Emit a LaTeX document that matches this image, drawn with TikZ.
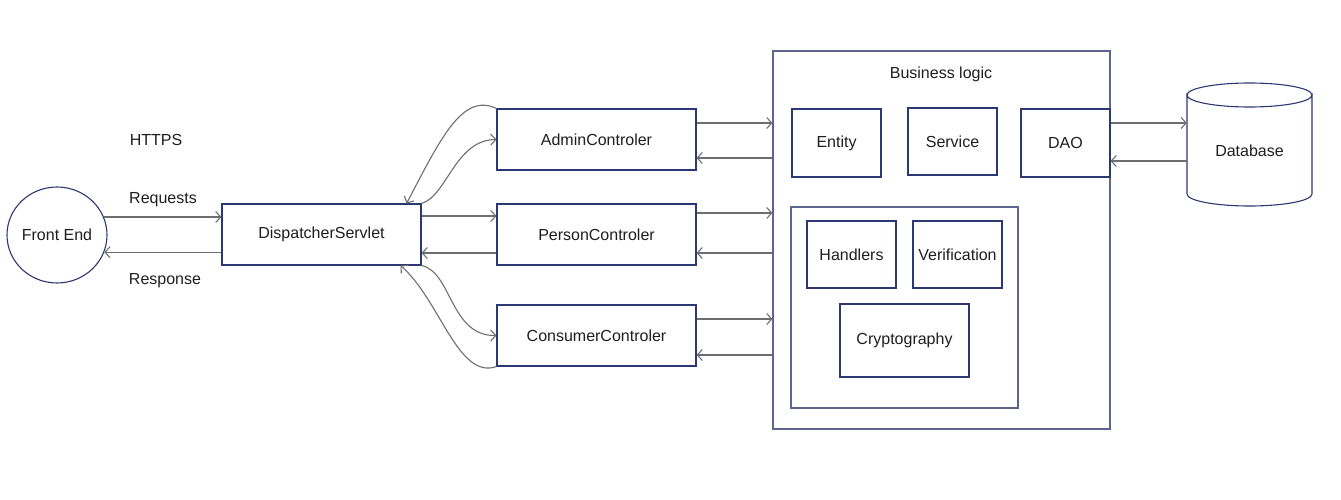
\documentclass[tikz,border=0pt]{standalone}
\usepackage{fontspec}
\setmainfont{Liberation Sans}
\usetikzlibrary{arrows.meta,shapes.geometric}
\definecolor{navy}{RGB}{44,56,116}
\definecolor{frame}{RGB}{92,102,142}
\definecolor{arrgray}{RGB}{110,110,110}
\definecolor{txt}{RGB}{30,30,30}
\tikzset{
  box/.style={draw=navy,line width=1.1pt,fill=white,inner sep=0pt,text=txt,font=\fontsize{16}{19}\selectfont},
  lbl/.style={inner sep=0pt,text=txt,font=\fontsize{16}{19}\selectfont},
  arr/.style={draw=arrgray,line width=1.1pt,-{Straight Barb[length=5pt,width=11pt,line width=1.1pt]}},
}
\begin{document}
\begin{tikzpicture}[x=1pt,y=-1pt]
\useasboundingbox (0,0) rectangle (1341,500);
% business logic frame
\node[box,draw=frame,minimum width=337pt,minimum height=378pt] (bl) at (941.5,240) {};
\node[lbl] (bltitle) at (941,74) {Business logic};
\node[box,minimum width=89pt,minimum height=68pt] (ent) at (836.5,143) {Entity};
\node[box,minimum width=89pt,minimum height=67pt] (srv) at (952.5,141.5) {Service};
\node[box,minimum width=89pt,minimum height=68pt] (dao) at (1065.5,143) {DAO};
\node[box,draw=frame,minimum width=227pt,minimum height=201pt] (inner) at (904.5,307.5) {};
\node[box,minimum width=89pt,minimum height=67pt] (hnd) at (851.5,254.5) {Handlers};
\node[box,minimum width=89pt,minimum height=67pt] (ver) at (957.5,254.5) {Verification};
\node[box,minimum width=129pt,minimum height=73pt] (cry) at (904.5,340.5) {Cryptography};
% front end and dispatcher
\node[box,ellipse,minimum width=100pt,minimum height=96pt] (fe) at (57,235) {Front End};
\node[box,minimum width=199pt,minimum height=61pt] (ds) at (321.5,234.5) {DispatcherServlet};
\node[box,minimum width=199pt,minimum height=61pt] (ad) at (596.5,139.5) {AdminControler};
\node[box,minimum width=199pt,minimum height=61pt] (pc) at (596.5,234.5) {PersonControler};
\node[box,minimum width=199pt,minimum height=61pt] (cc) at (596.5,335.5) {ConsumerControler};
% database
\node[inner sep=0pt,minimum width=125pt,minimum height=123pt] (db) at (1249.5,144.5) {};
\draw[navy,line width=1.1pt,fill=white]
  (1187,95) -- (1187,194) arc[start angle=180,end angle=360,x radius=62.5pt,y radius=12pt]
  -- (1312,95) arc[start angle=0,end angle=-180,x radius=62.5pt,y radius=12pt] -- cycle;
\draw[navy,line width=1.1pt] (1187,95) arc[start angle=180,end angle=0,x radius=62.5pt,y radius=12pt];
\node[lbl] (dbl) at (1249.5,151) {Database};
% labels
\node[lbl] (https) at (156,140) {HTTPS};
\node[lbl] (req) at (163,200) {Requests};
\node[lbl] (resp) at (165,281) {Response};
% front end <-> dispatcher
\draw[arr] (fe.21) -- (fe.21 -| ds.west);
\draw[arr] (ds.west |- fe.-20) -- (fe.-20);
% dispatcher <-> person
\draw[arr] ([yshift=18.5pt]ds.east) -- ([yshift=18.5pt]ds.east -| pc.west);
\draw[arr] ([yshift=-18.5pt]pc.west) -- ([yshift=-18.5pt]pc.west -| ds.east);
% dispatcher <-> admin
\draw[arr] (ds.north east) .. controls (447,196) and (455,140) .. (ad.west);
\draw[arr] (ad.north west) .. controls (462,92) and (440,140) .. ([xshift=-15pt]ds.north east);
% dispatcher <-> consumer
\draw[arr] (ds.south east) .. controls (452,272) and (450,336) .. (cc.west);
\draw[arr] (cc.south west) .. controls (458,380) and (440,300) .. ([xshift=-21pt]ds.south east);
% controllers <-> business logic
\draw[arr] ([yshift=16.5pt]ad.east) -- ([yshift=16.5pt]ad.east -| bl.west);
\draw[arr] ([yshift=-18.5pt]ad.east -| bl.west) -- ([yshift=-18.5pt]ad.east);
\draw[arr] ([yshift=21.5pt]pc.east) -- ([yshift=21.5pt]pc.east -| bl.west);
\draw[arr] ([yshift=-18.5pt]pc.east -| bl.west) -- ([yshift=-18.5pt]pc.east);
\draw[arr] ([yshift=16.5pt]cc.east) -- ([yshift=16.5pt]cc.east -| bl.west);
\draw[arr] ([yshift=-19.5pt]cc.east -| bl.west) -- ([yshift=-19.5pt]cc.east);
% DAO <-> database
\draw[arr] ([yshift=20pt]dao.east) -- ([yshift=20pt]dao.east -| db.west);
\draw[arr] ([yshift=-18pt]dao.east -| db.west) -- ([yshift=-18pt]dao.east);
\end{tikzpicture}
\end{document}
